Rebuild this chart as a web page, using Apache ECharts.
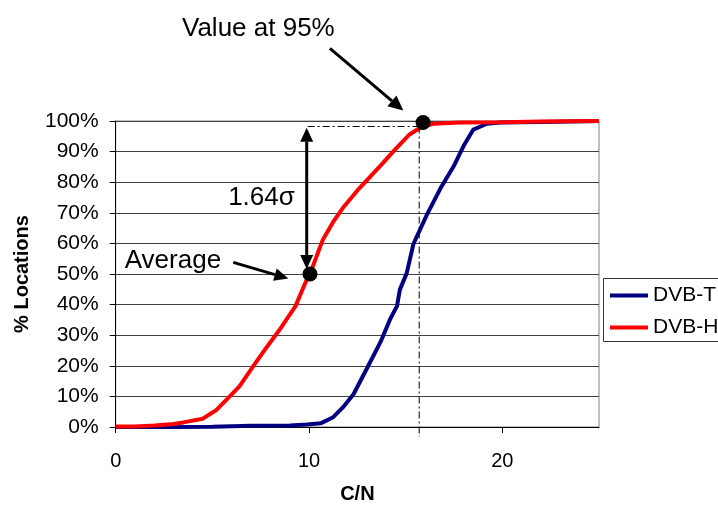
<!DOCTYPE html>
<html>
<head>
<meta charset="utf-8">
<script src="https://cdn.jsdelivr.net/npm/echarts@6/dist/echarts.min.js"></script>
<style>
  html, body { margin: 0; padding: 0; background: #fff; }
  #chart { width: 718px; height: 509px; }
</style>
</head>
<body>
<div id="chart"></div>
<script>
// ---- data ----
var xTicks = [0, 10, 20];
var dvbT_x = [0, 3, 5, 7, 9, 9.9, 10.6, 11.25, 11.75, 12.3, 13, 13.7, 14.2, 14.55, 14.7, 15.05, 15.4, 16.1, 16.8, 17.5, 18, 18.5, 19.2, 19.9, 22, 25];
var dvbT_y = [0, 0, 0.1, 0.4, 0.5, 0.8, 1.2, 3.2, 6.4, 10.7, 19.2, 27.8, 35.3, 39.5, 44.9, 50.2, 59.8, 69.4, 78, 85.4, 91.9, 97.2, 99.1, 99.5, 99.7, 100];
var dvbH_x = [0, 1, 2, 3, 3.5, 4.5, 5.2, 5.9, 6.4, 7.1, 7.8, 8.5, 9.3, 9.8, 10.05, 10.7, 11.25, 11.8, 12.6, 13.7, 14.4, 15.2, 15.75, 16.4, 17.8, 20, 22, 25];
var dvbH_y = [0.2, 0.2, 0.5, 1.0, 1.5, 2.7, 5.5, 10, 13.3, 19.7, 26, 32, 39.5, 47, 50, 61, 67, 72, 78, 85.4, 90.3, 95.6, 97.8, 99.1, 99.5, 99.6, 99.8, 100];

// annotation anchors in data units (C/N, %)
var avgPoint = [10.05, 50];
var p95Point = [15.9, 99.5];
var p95LineX = 15.7;
var p95LineY = 98.2;
var sigmaArrowX = 9.88;
var sigmaArrowY = [97.8, 51.6];
var avgLabel = { text: 'Average', at: [2.96, 54.3] };
var avgArrow = [[6.08, 53.8], [8.93, 48.5]];
var p95Label = { text: 'Value at 95%', at: [7.38, 130.1] };
var p95Arrow = [[11.08, 123.7], [14.88, 103.4]];
var sigmaLabel = { text: '1.64σ', at: [7.54, 74.9] };

function pairs(xs, ys) { return xs.map(function (x, i) { return [x, ys[i]]; }); }

var chart = echarts.init(document.getElementById('chart'), null, { renderer: 'canvas' });
var FONT = 'Liberation Sans, Arial, sans-serif';

chart.setOption({
  animation: false,
  backgroundColor: '#fff',
  textStyle: { fontFamily: FONT },
  grid: {
    left: 115.7, top: 121, width: 483.3, height: 312.3,
    show: true, borderColor: '#808080', borderWidth: 1, backgroundColor: 'transparent'
  },
  legend: {
    orient: 'vertical', left: 603, top: 278,
    padding: [7, 4, 7, 7], itemGap: 11,
    borderWidth: 0,
    icon: 'rect', itemWidth: 38, itemHeight: 4,
    textStyle: { fontSize: 21, color: '#000', fontFamily: FONT },
    data: ['DVB-T', 'DVB-H']
  },
  xAxis: {
    type: 'value', min: 0, max: 25, interval: 10,
    name: 'C/N', nameLocation: 'middle', nameGap: 57,
    nameTextStyle: { fontSize: 20, fontWeight: 'bold', color: '#000', fontFamily: FONT },
    axisLine: { show: true, lineStyle: { color: '#000', width: 1 } },
    axisTick: { show: true, length: 6, lineStyle: { color: '#000' }, customValues: xTicks },
    axisLabel: { fontSize: 20, color: '#000', margin: 24, customValues: xTicks, fontFamily: FONT },
    splitLine: { show: false }
  },
  yAxis: {
    type: 'value', min: 0, max: 100, interval: 10,
    name: '% Locations', nameLocation: 'middle', nameGap: 83,
    nameTextStyle: { fontSize: 20, fontWeight: 'bold', color: '#000', fontFamily: FONT },
    axisLine: { show: true, lineStyle: { color: '#000', width: 1 } },
    axisTick: { show: true, length: 6, lineStyle: { color: '#000' } },
    axisLabel: { fontSize: 21, color: '#000', margin: 17, formatter: '{value}%', fontFamily: FONT },
    splitLine: { show: true, lineStyle: { color: '#404040', width: 1 } }
  },
  series: [
    { name: 'DVB-T', type: 'line', data: pairs(dvbT_x, dvbT_y), showSymbol: false, clip: false,
      color: '#000080', lineStyle: { color: '#000080', width: 4 } },
    { name: 'DVB-H', type: 'line', data: pairs(dvbH_x, dvbH_y), showSymbol: false, clip: false,
      color: '#ff0000', lineStyle: { color: '#ff0000', width: 4 } }
  ]
});

function px(p) { return chart.convertToPixel({ gridIndex: 0 }, p); }

function arrowHead(tip, from, len, halfW) {
  var dx = tip[0] - from[0], dy = tip[1] - from[1];
  var d = Math.sqrt(dx * dx + dy * dy); dx /= d; dy /= d;
  var bx = tip[0] - dx * len, by = tip[1] - dy * len;
  return {
    base: [bx, by],
    shape: { type: 'polygon', silent: true, z: 100,
      shape: { points: [tip, [bx - dy * halfW, by + dx * halfW], [bx + dy * halfW, by - dx * halfW]] },
      style: { fill: '#000' } }
  };
}
function seg(a, b, w, dash) {
  return { type: 'line', silent: true, z: 100,
    shape: { x1: a[0], y1: a[1], x2: b[0], y2: b[1] },
    style: { stroke: '#000', lineWidth: w, lineDash: dash || null } };
}
function label(l) {
  var p = px(l.at);
  return { type: 'text', silent: true, z: 100, x: p[0], y: p[1],
    style: { text: l.text, fill: '#000', font: '26px ' + FONT, align: 'center', verticalAlign: 'middle' } };
}

var g = [];
// legend frame (runs off the right edge as in the reference)
g.push({ type: 'rect', silent: true, z: 50, shape: { x: 603.5, y: 278.5, width: 160, height: 63 },
  style: { fill: 'none', stroke: '#333', lineWidth: 1 } });

var dashDot = [7, 3, 2, 3];
// dash-dot guide lines
var vTop = px([p95LineX, p95LineY]);
var vBot = px([p95LineX, 0]);
g.push(seg(vTop, [vBot[0], vBot[1] + 10], 1, dashDot));
g.push(seg(px([sigmaArrowX + 0.05, p95LineY]), vTop, 1, dashDot));

// double arrow (1.64 sigma)
var aTop = px([sigmaArrowX, sigmaArrowY[0]]);
var aBot = px([sigmaArrowX, sigmaArrowY[1]]);
var h1 = arrowHead(aTop, aBot, 14, 6.5);
var h2 = arrowHead(aBot, aTop, 14, 6.5);
g.push(seg(h1.base, h2.base, 3));
g.push(h1.shape, h2.shape);

// average arrow
var s1 = px(avgArrow[0]), t1 = px(avgArrow[1]);
var h3 = arrowHead(t1, s1, 14, 6.5);
g.push(seg(s1, h3.base, 3), h3.shape);

// 95% arrow
var s2 = px(p95Arrow[0]), t2 = px(p95Arrow[1]);
var h4 = arrowHead(t2, s2, 15, 7);
g.push(seg(s2, h4.base, 3), h4.shape);

// dots
[avgPoint, p95Point].forEach(function (p) {
  var c = px(p);
  g.push({ type: 'circle', silent: true, z: 110, shape: { cx: c[0], cy: c[1], r: 7.5 }, style: { fill: '#000' } });
});

g.push(label(avgLabel), label(p95Label), label(sigmaLabel));

chart.setOption({ graphic: g });
</script>
</body>
</html>
